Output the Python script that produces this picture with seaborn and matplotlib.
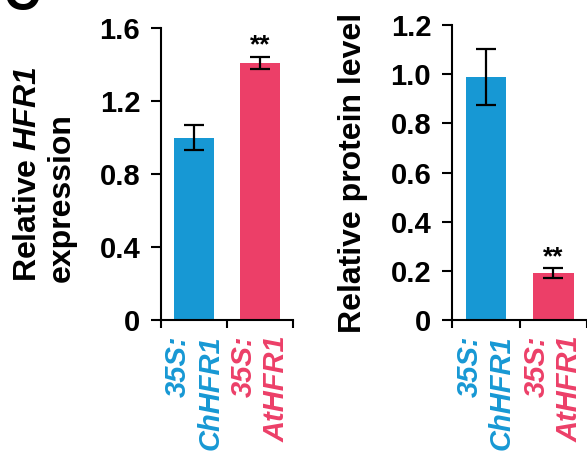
import matplotlib
matplotlib.use("Agg")
import matplotlib.pyplot as plt
import seaborn as sns

# data
genotypes = ["35S:\nChHFR1", "35S:\nAtHFR1"]
bar_colors = ["#1798d4", "#ec3f68"]
expr_mean = [1.00, 1.41]
expr_err = [0.066, 0.033]
protein_mean = [0.99, 0.19]
protein_err = [0.114, 0.021]
expr_ticks = [0, 0.4, 0.8, 1.2, 1.6]
expr_ticklabels = ["0", "0.4", "0.8", "1.2", "1.6"]
protein_ticks = [0, 0.2, 0.4, 0.6, 0.8, 1.0, 1.2]
protein_ticklabels = ["0", "0.2", "0.4", "0.6", "0.8", "1.0", "1.2"]
signif = ["", "**"]

sns.set_theme(style="ticks")
plt.rcParams["font.family"] = ["Liberation Sans", "DejaVu Sans"]
plt.rcParams["font.weight"] = "bold"
plt.rcParams["text.color"] = "black"
plt.rcParams["axes.labelcolor"] = "black"
plt.rcParams["xtick.color"] = "black"
plt.rcParams["ytick.color"] = "black"
# mathtext only used for the gene name -> everything italic bold
plt.rcParams["mathtext.fontset"] = "custom"
plt.rcParams["mathtext.it"] = "Liberation Sans:italic:bold"
plt.rcParams["mathtext.rm"] = "Liberation Sans:italic:bold"

fig = plt.figure(figsize=(5.87, 4.62), dpi=100)
W, H = 587, 462


def px_axes(left, right, top, bottom):
    return fig.add_axes([left / W, 1 - bottom / H, (right - left) / W, (bottom - top) / H])


ax1 = px_axes(161, 293, 28, 320)
ax2 = px_axes(452, 587, 25, 320)


def draw_panel(ax, means, errs, ticks, ticklabels, ylim, ylabel, label_x):
    sns.barplot(x=genotypes, y=means, hue=genotypes, palette=bar_colors,
                saturation=1, width=0.6, errorbar=None, legend=False,
                linewidth=0, ax=ax)
    ax.errorbar(range(len(means)), means, yerr=errs, fmt="none",
                ecolor="black", elinewidth=1.6, capsize=7, capthick=1.6)
    for i, s in enumerate(signif):
        if s:
            ax.annotate(s, (i, means[i] + errs[i]), xytext=(0, 3),
                        textcoords="offset points", ha="center",
                        va="baseline", fontsize=19, fontweight="bold")
    ax.set_xlim(-0.5, 1.5)
    ax.set_ylim(*ylim)
    ax.set_yticks(ticks)
    ax.set_yticklabels(ticklabels, fontsize=21, fontweight="bold")
    ax.tick_params(axis="y", direction="out", length=7, width=1.5, pad=8)
    ax.set_xticks(range(len(genotypes)))
    ax.set_xticks([-0.5, 0.5, 1.5], minor=True)
    ax.tick_params(axis="x", which="major", length=0, pad=11)
    ax.tick_params(axis="x", which="minor", direction="out", length=6, width=1.5)
    ax.set_xticklabels(genotypes, rotation=90, fontsize=21,
                       fontweight="bold", fontstyle="italic")
    for lab, col in zip(ax.get_xticklabels(), bar_colors):
        lab.set_color(col)
        lab.set_multialignment("right")
        lab.set_va("top")
    ax.set_ylabel(ylabel, fontsize=23, fontweight="bold", multialignment="left")
    ax.yaxis.label.set_va("center")
    ax.yaxis.set_label_coords(label_x, 0.5)
    sns.despine(ax=ax)
    for sp in ["left", "bottom"]:
        ax.spines[sp].set_linewidth(1.5)
        ax.spines[sp].set_color("black")
    ax.set_facecolor("none")


draw_panel(ax1, expr_mean, expr_err, expr_ticks, expr_ticklabels, (0, 1.6),
           "Relative $HFR1$\nexpression", -0.88)
draw_panel(ax2, protein_mean, protein_err, protein_ticks, protein_ticklabels,
           (0, 1.2), "Relative protein level", -0.73)

# panel letter, mostly cut off by the crop
fig.text(4 / W, 1 - 10 / H, "C", fontsize=36, fontweight="bold",
         ha="left", va="baseline")

fig.savefig("out.png", dpi=100)
